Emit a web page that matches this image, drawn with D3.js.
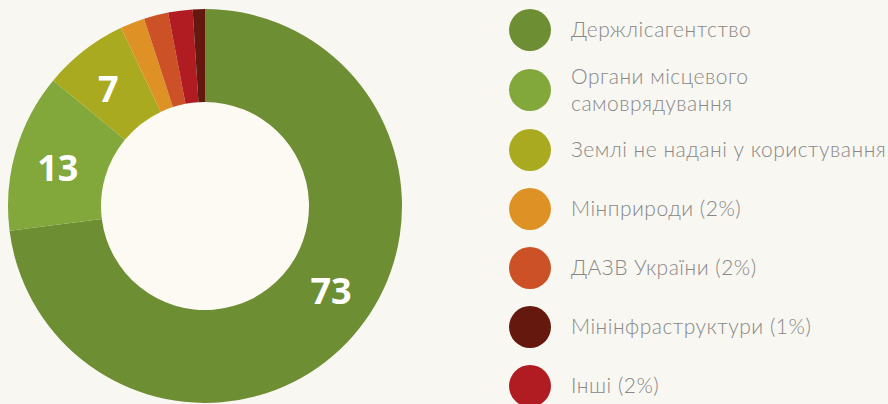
<!DOCTYPE html>
<html><head><meta charset="utf-8">
<script src="https://cdn.jsdelivr.net/npm/d3@7"></script>
<style>
html,body{margin:0;padding:0;background:#f9f7f2;}
svg{display:block;}
</style></head>
<body>
<svg id="chart" width="888" height="404"></svg>
<script>
const categories = ["Держлісагентство","Органи місцевого самоврядування","Землі не надані у користування","Мінприроди","ДАЗВ України","Інші","Мінінфраструктури"];
const values = [73, 13, 7, 2, 2, 2, 1];
const sliceLabels = ["73","13","7","","","",""];
const colors = ["#6e8e33","#82a83c","#aaaa20","#de9226","#cc5127","#b01c22","#65180d"];
const legendOrder = [0,1,2,3,4,6,5];
const legendLines = [["Держлісагентство"],["Органи місцевого","самоврядування"],["Землі не надані у користування"],["Мінприроди (2%)"],["ДАЗВ України (2%)"],["Мінінфраструктури (1%)"],["Інші (2%)"]];

const svg = d3.select("#chart");
const cx = 205, cy = 206, R = 197, r = 104;
const pie = d3.pie().sort(null).value(d=>d);
const arcs = pie(values);
const arc = d3.arc().innerRadius(r).outerRadius(R);
const labelArc = d3.arc().innerRadius(152).outerRadius(152);
const g = svg.append("g").attr("transform",`translate(${cx},${cy})`);
g.append("circle").attr("r",r).attr("fill","#fdfaf4");
g.selectAll("path.slice").data(arcs).join("path").attr("class","slice")
  .attr("d",arc).attr("fill",(d,i)=>colors[i]);
g.selectAll("text.lbl").data(arcs).join("text").attr("class","lbl")
  .attr("transform",(d,i)=>{
    let a=(d.startAngle+d.endAngle)/2;
    if(i===0) a -= 0.13; else a -= 0.03;
    const x=152*Math.sin(a), y=-152*Math.cos(a);
    return `translate(${x},${y})`;})
  .attr("text-anchor","middle").attr("dy","0.36em")
  .attr("fill","#fff").attr("font-family","'Open Sans', sans-serif")
  .attr("font-weight",700).attr("font-size",36)
  .text((d,i)=>sliceLabels[i]);

const legY = [30, 90, 150, 209, 268, 327, 386];
const lg = svg.append("g");
legendOrder.forEach((ci,k)=>{
  lg.append("circle").attr("cx",530).attr("cy",legY[k]).attr("r",21).attr("fill",colors[ci]);
  const lines = legendLines[k];
  const t = lg.append("text").attr("x",571).attr("fill","#888")
    .attr("font-family","Lato, sans-serif").attr("font-size",21).attr("font-weight",300)
    .attr("letter-spacing","0.5px");
  const y0 = legY[k] - (lines.length-1)*13.5;
  lines.forEach((ln,j)=>{
    t.append("tspan").attr("x",571).attr("y",y0+j*27).attr("dy","0.35em").text(ln);
  });
});
</script>
</body></html>
